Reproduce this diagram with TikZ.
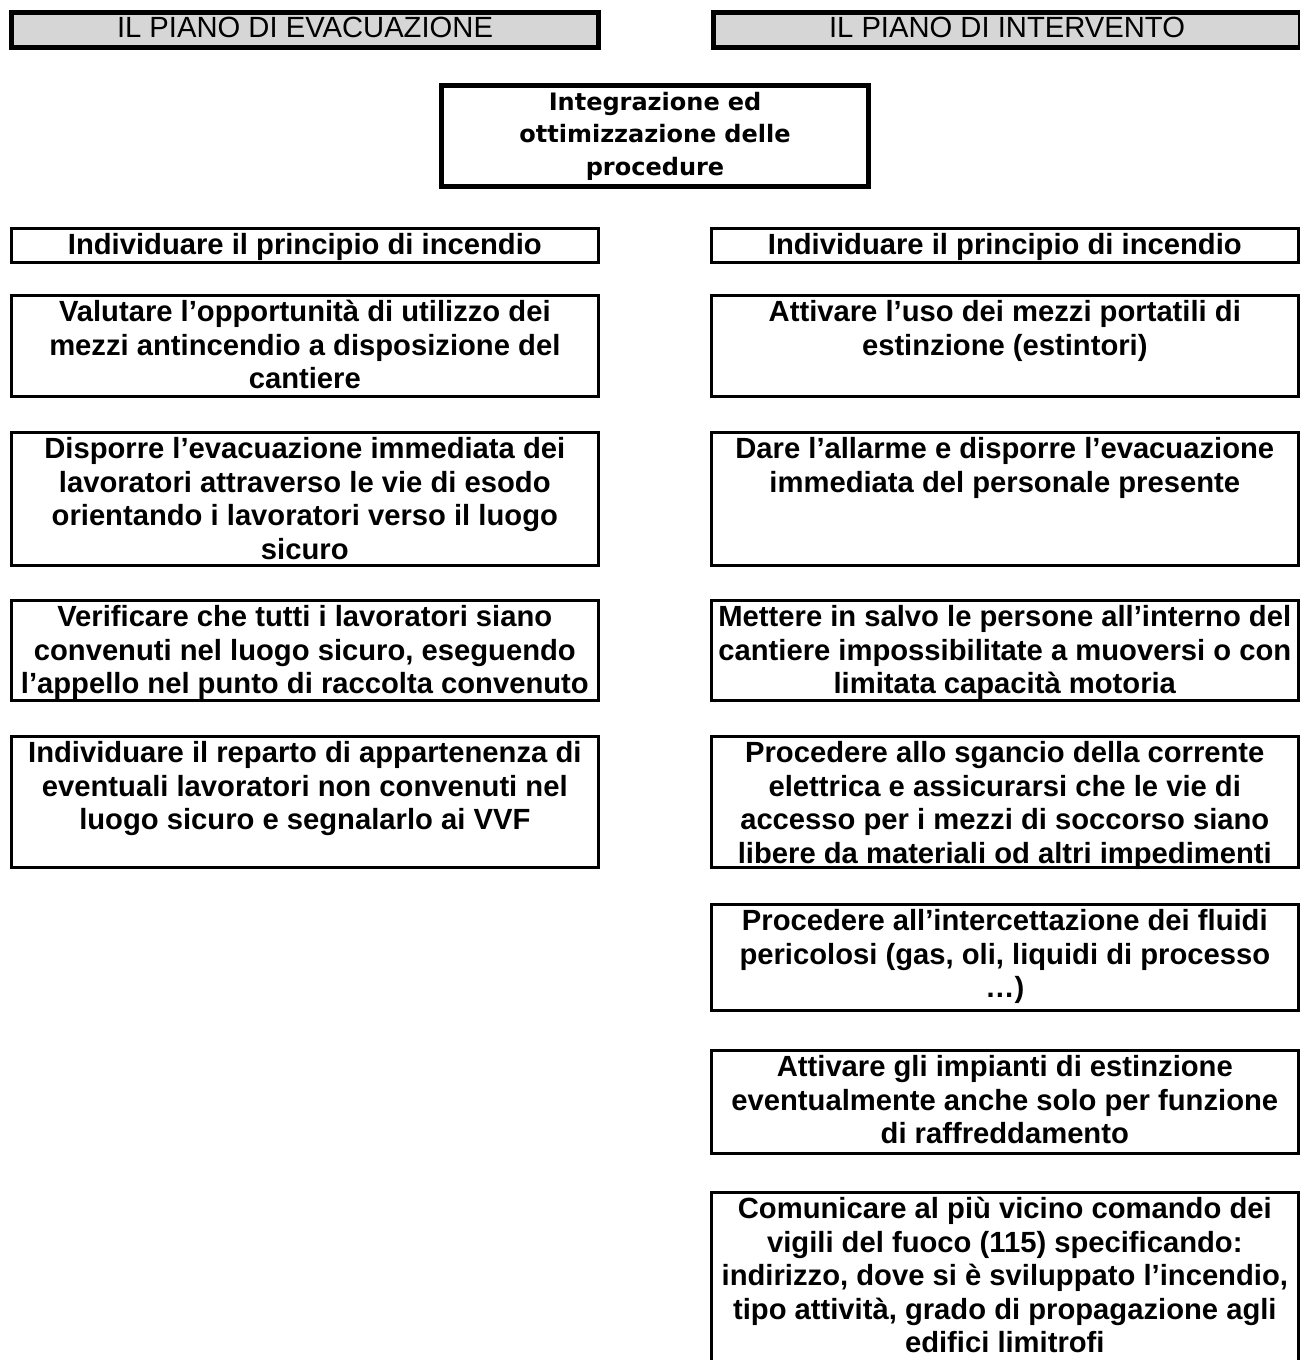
\documentclass[tikz,border=0pt]{standalone}
\usepackage{fontspec}
\setmainfont{Liberation Sans}
\newfontfamily\joinfont{DejaVu Sans}
\usepackage{tikz}
\definecolor{headgray}{HTML}{D6D6D6}
\tikzstyle{heading}=[rectangle, line width=2.5pt, draw=black, fill=headgray, anchor=north west, inner sep=0pt, minimum width=293.5pt, minimum height=17.5pt, text height=10.5pt, text depth=2.5pt, font=\fontsize{14.6}{16.7}\selectfont]
\tikzstyle{joinbox}=[rectangle, line width=2.5pt, draw=black, anchor=north west, inner sep=0pt, minimum width=213.5pt, minimum height=50.5pt, text width=213pt, align=center, font=\joinfont\bfseries\fontsize{12}{16.25}\selectfont]
\tikzstyle{stepbox}=[rectangle, line width=1.3pt, draw=black, anchor=north west, inner sep=0pt, font=\fontsize{14.6}{16.7}\selectfont\bfseries]
\newcommand{\steptext}[2]{\parbox[t][#1][t]{293.5pt}{\centering\rule{0pt}{13.3pt}#2}}

\begin{document}
\begin{tikzpicture}[x=0.5pt,y=-0.5pt]
  \useasboundingbox (0,0) rectangle (1300,1360);
  % titoli delle due colonne
  \node (hEvac) [heading] at (9,10) {IL PIANO DI EVACUAZIONE};
  \node (hInterv) [heading] at (711,10) {IL PIANO DI INTERVENTO};
  \node (join) [joinbox] at (439,83) {Integrazione ed\\ottimizzazione delle\\procedure};
  % piano di evacuazione
  \node (e1) [stepbox] at (10,227) {\steptext{17pt}{Individuare il principio di incendio}};
  \node (e2) [stepbox] at (10,294) {\steptext{50.5pt}{Valutare l’opportunità di utilizzo dei\\mezzi antincendio a disposizione del\\cantiere}};
  \node (e3) [stepbox] at (10,431) {\steptext{66.5pt}{Disporre l’evacuazione immediata dei\\lavoratori attraverso le vie di esodo\\orientando i lavoratori verso il luogo\\sicuro}};
  \node (e4) [stepbox] at (10,599) {\steptext{50pt}{Verificare che tutti i lavoratori siano\\convenuti nel luogo sicuro, eseguendo\\l’appello nel punto di raccolta convenuto}};
  \node (e5) [stepbox] at (10,735) {\steptext{65.5pt}{Individuare il reparto di appartenenza di\\eventuali lavoratori non convenuti nel\\luogo sicuro e segnalarlo ai VVF}};
  % piano di intervento
  \node (i1) [stepbox] at (710,227) {\steptext{17pt}{Individuare il principio di incendio}};
  \node (i2) [stepbox] at (710,294) {\steptext{50.5pt}{Attivare l’uso dei mezzi portatili di\\estinzione (estintori)}};
  \node (i3) [stepbox] at (710,431) {\steptext{66.5pt}{Dare l’allarme e disporre l’evacuazione\\immediata del personale presente}};
  \node (i4) [stepbox] at (710,599) {\steptext{50pt}{Mettere in salvo le persone all’interno del\\cantiere impossibilitate a muoversi o con\\limitata capacità motoria}};
  \node (i5) [stepbox] at (710,735) {\steptext{65.5pt}{Procedere allo sgancio della corrente\\elettrica e assicurarsi che le vie di\\accesso per i mezzi di soccorso siano\\libere da materiali od altri impedimenti}};
  \node (i6) [stepbox] at (710,903) {\steptext{53pt}{Procedere all’intercettazione dei fluidi\\pericolosi (gas, oli, liquidi di processo\\…)}};
  \node (i7) [stepbox] at (710,1049) {\steptext{51.5pt}{Attivare gli impianti di estinzione\\eventualmente anche solo per funzione\\di raffreddamento}};
  \node (i8) [stepbox] at (710,1191) {\steptext{100pt}{Comunicare al più vicino comando dei\\vigili del fuoco (115) specificando:\\indirizzo, dove si è sviluppato l’incendio,\\tipo attività, grado di propagazione agli\\edifici limitrofi}};
\end{tikzpicture}
\end{document}
